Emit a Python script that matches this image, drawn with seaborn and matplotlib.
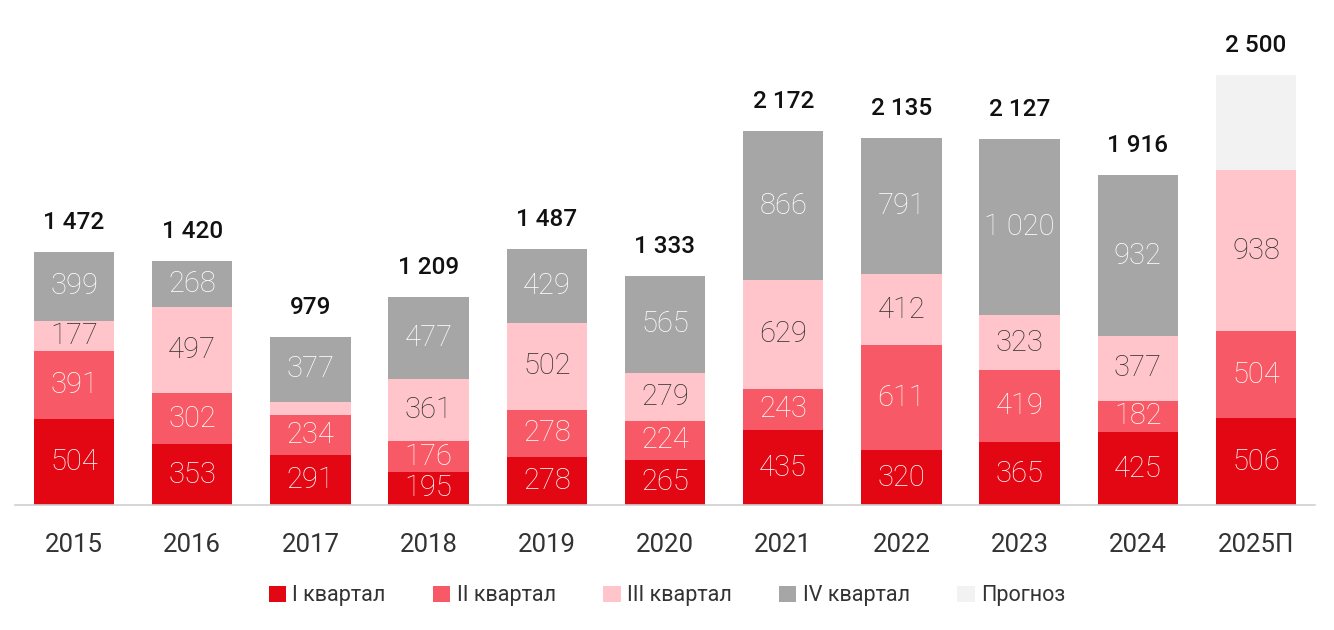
import numpy as np
import pandas as pd
import matplotlib
matplotlib.use('Agg')
import matplotlib.pyplot as plt
import seaborn as sns
from matplotlib.patches import Patch

# данные по кварталам
years = ['2015', '2016', '2017', '2018', '2019', '2020',
         '2021', '2022', '2023', '2024', '2025П']
q1 = [504, 353, 291, 195, 278, 265, 435, 320, 365, 425, 506]
q2 = [391, 302, 234, 176, 278, 224, 243, 611, 419, 182, 504]
q3 = [177, 497, 77, 361, 502, 279, 629, 412, 323, 377, 938]
q4 = [399, 268, 377, 477, 429, 565, 866, 791, 1020, 932, 0]
forecast = [0, 0, 0, 0, 0, 0, 0, 0, 0, 0, 552]
totals = ['1 472', '1 420', '979', '1 209', '1 487', '1 333',
          '2 172', '2 135', '2 127', '1 916', '2 500']

names = ['I квартал', 'II квартал', 'III квартал', 'IV квартал', 'Прогноз']
colors = ['#E30613', '#F75A66', '#FFC5CB', '#A6A6A6', '#F2F2F2']
text_colors = ['white', 'white', '#333333', 'white', None]

sns.set_theme(style='white')
plt.rcParams['font.family'] = ['Roboto', 'DejaVu Sans']

layers = [q1, q2, q3, q4, forecast]
df = pd.DataFrame({'year': years})
cum = np.zeros(len(years))
cums = []
for vals in layers:
    cum = cum + np.array(vals)
    cums.append(cum.copy())

fig = plt.figure(figsize=(13.34, 6.3), dpi=100)
ax = fig.add_axes([0.0112, 0.198, 0.9746, 0.765])

# рисуем накопленные суммы сверху вниз
for i in range(len(layers) - 1, -1, -1):
    df['h'] = cums[i]
    sns.barplot(data=df, x='year', y='h', color=colors[i], width=0.68,
                saturation=1, ax=ax, edgecolor='none', linewidth=0)

# подписи сегментов
for i, vals in enumerate(layers):
    if text_colors[i] is None:
        continue
    for j, v in enumerate(vals):
        if v < 120:
            continue
        mid = cums[i][j] - v / 2
        ax.text(j, mid, f'{v:,}'.replace(',', ' '), ha='center', va='center',
                fontsize=21, color=text_colors[i], fontweight='light')

# итоговые значения
for j, t in enumerate(totals):
    ax.text(j, cums[-1][j] + 105, t, ha='center', va='bottom',
            fontsize=17.5, fontweight='medium', color='#111111')

ax.set_xlim(-0.5, 10.5)
ax.set_ylim(0, 2800)
ax.set_xlabel('')
ax.set_ylabel('')
ax.set_yticks([])
sns.despine(ax=ax, left=True, top=True, right=True)
ax.spines['bottom'].set_color('#D0D0D0')
ax.spines['bottom'].set_linewidth(1.2)
ax.tick_params(axis='x', length=0, pad=20, labelsize=18.5, labelcolor='#333333')

handles = [Patch(facecolor=c, edgecolor='none') for c in colors]
fig.legend(handles, names, loc='center', bbox_to_anchor=(0.5, 0.054), ncol=5,
           frameon=False, handlelength=0.8, handleheight=0.8,
           handletextpad=0.3, columnspacing=2.2, labelcolor='#333333',
           prop={'family': ['Roboto', 'DejaVu Sans'], 'size': 15.5})

fig.savefig('out.png', dpi=100)
